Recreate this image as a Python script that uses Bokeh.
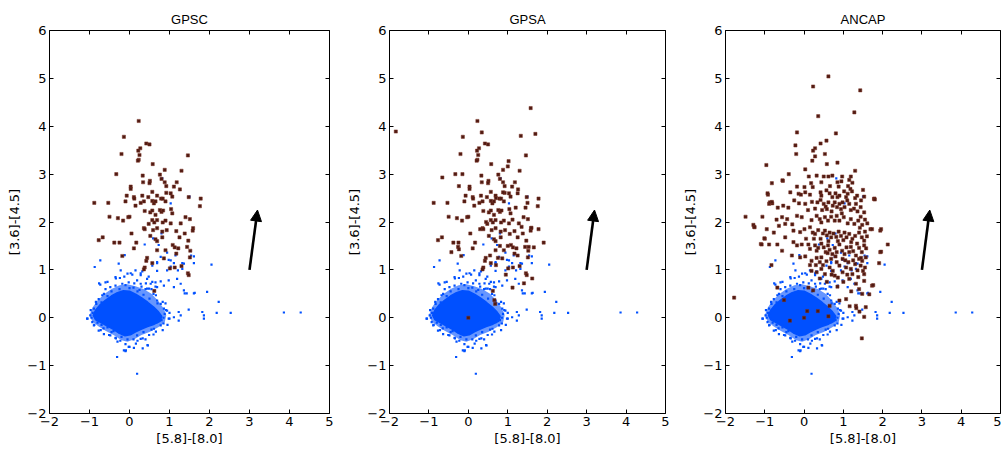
from bokeh.plotting import figure
from bokeh.layouts import row
from bokeh.models import FixedTicker, LinearAxis, Arrow, NormalHead, Range1d
from bokeh.embed import file_html
from bokeh.resources import INLINE

# ---------------- data ----------------
titles = ["GPSC", "GPSA", "ANCAP"]
x_label = "[5.8]-[8.0]"
y_label = "[3.6]-[4.5]"
x_ticks = [-2, -1, 0, 1, 2, 3, 4, 5]
x_tick_labels = ["\u22122", "\u22121", "0", "1", "2", "3", "4", "5"]
y_ticks = [-2, -1, 0, 1, 2, 3, 4, 5, 6]
y_tick_labels = ["\u22122", "\u22121", "0", "1", "2", "3", "4", "5", "6"]

# reddening vector
arrow_start = (3.0, 1.0)
arrow_end = (3.2, 2.25)

# dense core of the field-star (blue) distribution, outline
core_x = [-0.90, -0.84, -0.74, -0.60, -0.45, -0.30, -0.15, 0.00, 0.15, 0.30, 0.45, 0.60, 0.72,
          0.80, 0.76, 0.62, 0.45, 0.30, 0.15, 0.02, -0.12, -0.25, -0.40, -0.55, -0.70, -0.84]
core_y = [0.05, 0.16, 0.26, 0.36, 0.45, 0.52, 0.56, 0.55, 0.49, 0.41, 0.32, 0.22, 0.12,
          0.03, -0.07, -0.13, -0.18, -0.23, -0.29, -0.35, -0.37, -0.32, -0.24, -0.17, -0.10, -0.04]
# less dense halo around the core, outline
halo_x = [-1.00, -0.92, -0.80, -0.62, -0.45, -0.25, -0.05, 0.15, 0.35, 0.55, 0.72, 0.85,
          0.92, 0.88, 0.72, 0.50, 0.30, 0.12, -0.05, -0.20, -0.40, -0.60, -0.78, -0.93]
halo_y = [0.05, 0.22, 0.36, 0.50, 0.60, 0.68, 0.70, 0.66, 0.60, 0.50, 0.35, 0.20,
          0.05, -0.10, -0.20, -0.30, -0.36, -0.45, -0.50, -0.47, -0.36, -0.27, -0.18, -0.08]

# scattered field stars (blue), same in every panel
blue_pts = [
    (-0.12, 1.31), (-0.87, 1.06), (-0.73, 1.20), (-0.27, 1.13), (0.03, 0.93), (0.07, 0.90),
    (-0.35, 0.85), (-0.24, 0.83), (-0.13, 0.86), (0.15, 0.99), (0.32, 0.97), (0.57, 1.09),
    (0.69, 1.16), (0.78, 1.27), (1.03, 1.20), (1.15, 1.30), (0.94, 0.99), (1.21, 0.99),
    (1.32, 1.02), (1.36, 1.13), (1.54, 1.30), (1.61, 1.14), (2.05, 1.11), (-0.60, 0.74),
    (-0.73, 0.69), (-0.48, 0.64), (-0.35, 0.67), (-0.18, 0.71), (-0.02, 0.74), (0.19, 0.78),
    (0.28, 0.71), (0.44, 0.81), (0.53, 0.71), (0.65, 0.74), (0.69, 0.64), (0.78, 0.76),
    (0.86, 0.67), (0.98, 0.78), (1.11, 0.64), (1.19, 0.81), (1.28, 0.71), (1.36, 0.57),
    (1.43, 0.51), (1.61, 0.51), (1.94, 0.54), (2.23, 0.33), (1.82, 0.12), (1.86, 0.05),
    (1.86, -0.02), (2.18, 0.10), (2.53, 0.10), (1.48, 0.17), (1.23, 0.12), (1.28, 0.05),
    (1.23, -0.06), (1.11, 0.01), (0.98, -0.02), (0.86, 0.19), (0.94, 0.15), (0.78, 0.29),
    (0.69, 0.36), (-1.06, -0.02), (-0.93, -0.09), (-0.98, 0.05), (-0.89, 0.19), (-0.89, -0.16),
    (-0.77, -0.27), (-0.64, -0.34), (-0.48, -0.37), (-0.35, -0.42), (-0.23, -0.48), (-0.10, -0.55),
    (-0.02, -0.61), (0.11, -0.63), (-0.14, -0.68), (-0.10, -0.70), (0.19, -0.37), (0.28, -0.44),
    (0.46, -0.58), (0.61, -0.23), (0.78, -0.16), (0.69, -0.09), (-0.31, -0.82), (0.19, -1.17),
    (-0.64, 0.50), (-0.77, 0.39), (-0.83, 0.29), (3.86, 0.11), (4.28, 0.11), (1.63, 0.52),
    (1.38, 0.51), (0.82, 2.91), (1.50, 2.53), (1.03, 2.39), (0.38, 1.53), (0.59, 1.66),
    (0.80, 1.76), (0.73, 1.52), (0.94, 1.36), (0.98, 1.21), (0.69, 1.14), (1.11, 1.14),
    (1.32, 1.14), (1.61, 1.28), (0.69, 0.98), (1.03, 1.07), (0.28, 0.93), (0.48, 0.86),
    (0.57, 0.75), (0.44, 0.61), (0.65, 0.65), (-0.85, 0.10), (-0.80, -0.10), (-0.70, 0.32),
    (-0.55, 0.45), (-0.45, 0.55), (-0.25, 0.60), (0.00, 0.62), (0.20, 0.55), (0.35, 0.48),
    (0.50, 0.40), (0.60, 0.50), (0.40, 0.60), (0.75, 0.05), (0.85, 0.00), (0.80, -0.05),
    (0.55, -0.25), (0.35, -0.30), (0.10, -0.45), (-0.05, -0.45), (-0.25, -0.30), (-0.55, -0.20),
    (-0.70, -0.15), (0.30, 0.65), (0.55, 0.60), (0.90, 0.30), (1.00, 0.10), (0.40, -0.45),
    (-0.40, -0.28), (-1.05, -0.02), (-0.97, 0.16), (-0.84, 0.33), (-0.76, 0.72), (-0.55, 0.75),
    (-0.68, 0.47), (-0.34, 0.82), (-0.22, 0.99), (-0.05, 0.92), (0.12, 0.72), (0.28, 0.89),
    (0.41, 0.72), (0.49, 0.61), (0.66, 0.47), (0.83, 0.33), (0.91, 0.16), (1.00, -0.02),
    (0.95, -0.15), (0.83, -0.26), (0.66, -0.29), (0.49, -0.36), (0.33, -0.43), (0.16, -0.54),
    (0.00, -0.61), (-0.09, -0.68), (-0.30, -0.50), (-0.51, -0.36), (-0.72, -0.26), (-0.88, -0.15),
    (-0.34, -0.43), (0.33, -0.64), (0.45, -0.57), (-0.95, 0.00), (-0.92, 0.10), (-0.60, 0.60),
    (-0.10, 0.68), (0.10, 0.63), (0.25, 0.58), (0.70, 0.30), (0.88, 0.08), (0.85, -0.12),
    (0.60, -0.35), (0.20, -0.48), (-0.20, -0.40), (-0.45, -0.30), (-0.65, -0.22),
]

# YSO candidates (red) per classification scheme
gpsc_pts = [
    (0.23, 4.11), (-0.14, 3.78), (0.42, 3.64), (0.50, 3.62), (-0.20, 3.42), (0.27, 3.54),
    (0.22, 3.49), (0.25, 3.40), (0.23, 3.30), (0.21, 3.28), (0.58, 3.21), (1.46, 3.39),
    (-0.33, 3.00), (1.30, 3.07), (0.33, 2.97), (0.88, 3.09), (0.76, 2.99), (0.80, 2.90),
    (0.03, 2.74), (0.03, 2.69), (0.34, 2.83), (0.51, 2.86), (0.50, 2.81), (0.88, 2.83),
    (1.18, 2.83), (1.11, 2.74), (0.92, 2.75), (1.26, 2.68), (-0.07, 2.55), (0.11, 2.52),
    (0.12, 2.49), (0.32, 2.55), (0.47, 2.52), (0.57, 2.63), (0.69, 2.55), (0.79, 2.49),
    (0.83, 2.49), (0.92, 2.61), (1.03, 2.60), (1.07, 2.53), (0.90, 2.43), (1.48, 2.52),
    (1.78, 2.49), (1.76, 2.33), (-0.88, 2.40), (-0.53, 2.40), (-0.10, 2.43), (0.15, 2.34),
    (0.28, 2.40), (0.36, 2.43), (0.57, 2.44), (0.61, 2.39), (0.65, 2.43), (0.38, 2.23),
    (0.52, 2.20), (0.57, 2.24), (0.76, 2.25), (0.80, 2.21), (0.84, 2.24), (0.65, 2.15),
    (1.04, 2.27), (1.07, 2.18), (-0.50, 2.11), (-0.29, 2.08), (-0.16, 2.03), (-0.03, 2.10),
    (0.00, 2.11), (0.57, 2.04), (0.62, 1.99), (0.69, 2.04), (0.83, 1.99), (0.90, 2.03),
    (1.03, 1.97), (1.28, 1.97), (1.40, 2.10), (1.51, 2.06), (1.59, 1.87), (1.58, 1.82),
    (0.36, 1.87), (0.38, 1.85), (0.48, 1.96), (0.59, 1.83), (0.69, 1.87), (0.82, 1.80),
    (0.93, 1.83), (1.17, 1.81), (1.25, 1.68), (1.38, 1.76), (1.47, 1.61), (0.05, 1.76),
    (-0.67, 1.68), (-0.77, 1.62), (-0.38, 1.57), (-0.25, 1.57), (0.17, 1.57), (0.52, 1.71),
    (0.65, 1.64), (0.69, 1.60), (0.82, 1.68), (1.08, 1.52), (1.13, 1.47), (1.22, 1.45),
    (1.44, 1.48), (0.11, 1.45), (0.69, 1.41), (0.90, 1.41), (1.17, 1.34), (1.52, 1.40),
    (-0.18, 1.29), (0.44, 1.25), (0.42, 1.19), (0.86, 1.24), (1.51, 1.26), (0.57, 1.14),
    (0.38, 1.05), (0.36, 1.01), (1.01, 1.03), (1.13, 1.05), (1.30, 1.08), (1.46, 0.93),
    (1.48, 0.89), (0.62, 0.56),
]

gpsa_extra_pts = [
    (-1.84, 3.89), (1.58, 4.38), (1.70, 3.84), (1.33, 3.80), (0.34, 3.87), (1.02, 3.27),
    (1.00, 3.16), (-0.66, 2.93), (-0.15, 3.00), (-0.24, 2.75), (-0.26, 1.48), (-0.24, 1.43),
    (-0.43, 1.37), (1.53, 1.48), (1.66, 1.47), (1.91, 1.57), (1.78, 1.85), (1.60, 1.88),
    (1.41, 0.72), (1.62, 0.82), (1.12, 0.63), (0.66, 0.37), (0.68, 0.29), (0.00, 0.00),
    (0.70, 2.50), (1.20, 2.30), (0.45, 2.00), (0.80, 1.50), (1.00, 1.50), (1.35, 1.90),
    (1.25, 2.60), (1.45, 2.30), (1.50, 2.40), (0.70, 1.10), (0.95, 0.90), (0.55, 1.30),
    (1.25, 1.30), (0.88, 2.62), (1.12, 2.05), (0.30, 1.85), (0.75, 1.25), (1.05, 1.75),
]
gpsa_pts = gpsc_pts + gpsa_extra_pts

ancap_pts = [
    (0.62, 5.04), (0.23, 4.83), (1.43, 4.75), (1.28, 4.29), (0.36, 4.21), (0.81, 3.85),
    (-0.18, 3.87), (0.57, 3.70), (0.42, 3.64), (-0.22, 3.60), (0.28, 3.54), (0.23, 3.49),
    (-0.20, 3.42), (0.53, 3.42), (0.21, 3.28), (0.28, 3.37), (-0.96, 3.19), (0.58, 3.21),
    (0.85, 3.24), (1.30, 3.07), (0.03, 3.10), (-0.39, 3.00), (0.97, 2.95), (-0.54, 2.86),
    (-0.82, 2.81), (1.19, 2.95), (1.23, 2.82), (0.32, 2.97), (0.62, 2.95), (0.72, 2.97),
    (-0.55, 2.87), (0.18, 2.81), (0.44, 2.83), (0.85, 2.83), (0.88, 2.74), (1.15, 2.88),
    (-0.92, 2.57), (-0.35, 2.62), (-0.18, 2.74), (-0.14, 2.59), (-0.08, 2.57), (0.01, 2.73),
    (0.03, 2.62), (0.15, 2.57), (0.22, 2.73), (0.42, 2.62), (0.44, 2.55), (0.57, 2.66),
    (0.65, 2.60), (0.72, 2.52), (0.80, 2.60), (0.85, 2.52), (0.90, 2.55), (1.02, 2.64),
    (1.07, 2.52), (1.11, 2.59), (1.18, 2.69), (1.22, 2.64), (1.30, 2.50), (1.50, 2.67),
    (1.53, 2.53), (1.78, 2.48), (-0.89, 2.38), (-0.81, 2.39), (-0.67, 2.30), (-0.53, 2.34),
    (-0.13, 2.39), (0.03, 2.38), (0.20, 2.42), (0.34, 2.41), (0.42, 2.46), (0.50, 2.38),
    (0.55, 2.32), (0.58, 2.27), (0.62, 2.41), (0.73, 2.34), (0.78, 2.41), (0.84, 2.31),
    (0.90, 2.38), (0.94, 2.27), (0.98, 2.41), (1.03, 2.31), (1.15, 2.38), (1.19, 2.25),
    (1.32, 2.38), (1.36, 2.22), (1.44, 2.31), (1.53, 2.20), (-1.06, 2.11), (-0.56, 2.10),
    (-0.43, 2.06), (-0.18, 2.13), (-0.06, 2.10), (0.19, 2.04), (0.32, 2.13), (0.40, 2.06),
    (0.44, 1.99), (0.53, 2.10), (0.61, 2.03), (0.69, 2.11), (0.78, 2.03), (0.83, 2.13),
    (0.90, 2.03), (1.01, 2.10), (1.11, 1.97), (1.19, 2.06), (1.28, 1.96), (1.38, 2.03),
    (1.44, 2.11), (1.48, 1.94), (1.61, 1.97), (1.69, 1.85), (-1.27, 1.90), (-0.77, 1.78),
    (-0.64, 1.92), (-0.48, 1.96), (-0.27, 1.82), (-0.10, 1.79), (0.01, 1.85), (0.15, 1.89),
    (0.22, 1.78), (0.28, 1.75), (0.36, 1.83), (0.48, 1.76), (0.53, 1.82), (0.58, 1.72),
    (0.65, 1.78), (0.69, 1.68), (0.75, 1.76), (0.82, 1.69), (0.88, 1.80), (0.94, 1.71),
    (1.03, 1.78), (1.08, 1.68), (1.15, 1.75), (1.23, 1.65), (1.30, 1.71), (1.40, 1.78),
    (1.47, 1.68), (1.53, 1.61), (1.73, 1.85), (1.94, 1.82), (-1.10, 1.54), (-1.00, 1.65),
    (-0.89, 1.53), (-0.68, 1.53), (-0.48, 1.68), (-0.27, 1.58), (-0.18, 1.51), (-0.06, 1.53),
    (0.11, 1.53), (0.15, 1.44), (0.28, 1.51), (0.32, 1.40), (0.36, 1.46), (0.44, 1.55),
    (0.50, 1.47), (0.55, 1.37), (0.61, 1.51), (0.65, 1.42), (0.72, 1.33), (0.78, 1.46),
    (0.83, 1.37), (0.90, 1.53), (0.97, 1.40), (1.03, 1.33), (1.08, 1.47), (1.15, 1.37),
    (1.19, 1.48), (1.25, 1.39), (1.32, 1.30), (1.40, 1.46), (1.47, 1.37), (1.53, 1.51),
    (1.57, 1.26), (-0.56, 1.40), (-0.31, 1.30), (-0.10, 1.26), (0.03, 1.28), (0.19, 1.19),
    (0.32, 1.25), (0.40, 1.16), (0.44, 1.26), (0.57, 1.18), (0.65, 1.05), (0.69, 1.23),
    (0.83, 1.16), (0.90, 1.09), (0.98, 1.23), (1.07, 1.05), (1.13, 1.16), (1.19, 1.02),
    (1.30, 1.12), (1.36, 0.99), (1.44, 1.09), (1.53, 0.91), (1.48, 1.19), (1.40, 1.23),
    (0.19, 0.98), (0.32, 0.95), (0.44, 1.02), (0.53, 0.91), (0.73, 0.98), (0.78, 0.88),
    (0.86, 0.84), (0.98, 0.95), (1.15, 0.81), (1.23, 0.91), (1.32, 0.71), (1.53, 0.77),
    (1.73, 0.67), (2.13, 1.53), (1.94, 1.37), (-0.68, 0.63), (0.11, 0.63), (0.23, 0.57),
    (1.40, 0.60), (1.48, 0.50), (1.07, 0.39), (0.90, 0.36), (0.65, 0.25), (1.32, 0.25),
    (1.57, 0.22), (-1.78, 0.42), (-1.49, 2.11), (-1.29, 1.94), (-1.26, 1.89), (-1.08, 1.53),
    (-1.01, 1.66), (-0.93, 2.60), (-0.87, 2.41), (-0.82, 2.42), (-0.83, 1.10), (1.96, 1.85),
    (1.96, 1.38), (1.91, 1.14), (1.79, 2.49), (1.80, 2.47), (1.76, 0.68), (1.66, 0.49),
    (1.53, 0.02), (1.47, -0.43), (1.16, 0.24), (1.33, 0.20), (1.41, 0.13), (-0.36, -0.06),
    (0.00, 0.00), (0.08, 0.14), (0.35, 0.14), (0.62, 0.03), (-0.51, 0.37),
    (0.46, 2.25), (0.70, 2.22), (1.10, 2.45), (1.27, 2.28), (0.96, 2.18), (1.42, 1.88),
    (1.55, 1.80), (1.35, 1.55), (1.20, 1.58), (1.00, 1.62), (0.86, 1.60), (0.62, 1.60),
    (0.42, 1.65), (0.25, 1.65), (0.05, 1.65), (1.45, 1.25), (1.55, 1.05), (1.50, 0.98),
    (1.38, 0.85), (1.25, 1.20), (1.05, 1.20), (0.80, 1.28), (0.60, 1.35), (0.48, 1.10),
    (0.30, 1.10), (0.15, 1.10), (1.58, 1.45), (1.60, 1.70), (1.55, 2.05), (1.45, 2.45),
    (1.35, 2.55), (1.12, 2.75), (0.95, 2.85), (0.66, 2.75), (0.50, 2.95), (0.12, 2.95),
    (-0.25, 2.45), (-0.40, 2.30), (-0.70, 2.05), (-0.95, 1.85), (-0.30, 1.95), (0.10, 2.25),
    (0.28, 2.28), (1.00, 0.75), (0.85, 0.65), (0.58, 0.75), (0.40, 0.82), (1.20, 0.55),
    (1.10, 0.90), (0.70, 0.90),
]
red_sets = [gpsc_pts, gpsa_pts, ancap_pts]

# ---------------- styling ----------------
FONT = "DejaVu Sans"
TITLE_FONT = "Liberation Sans"
BLUE = "#0050ff"
RED_FILL = "#4f1a12"
RED_EDGE = "#7a3427"


def style_axis(ax, ticks, labels, show_labels=True):
    ax.ticker = FixedTicker(ticks=ticks)
    ax.major_tick_in = 4
    ax.major_tick_out = 0
    ax.major_tick_line_color = "black"
    ax.major_tick_line_width = 1
    ax.minor_tick_line_color = None
    ax.axis_line_color = None
    ax.major_label_text_font = FONT
    if show_labels:
        ax.major_label_overrides = {t: l for t, l in zip(ticks, labels)}
        ax.major_label_text_font_size = "13px"
        ax.major_label_text_color = "black"
        ax.major_label_standoff = 3
    else:
        # tick marks only (mirrors matplotlib's ticks on every side)
        ax.major_label_text_font_size = "1px"
        ax.major_label_text_color = None
        ax.major_label_standoff = 0


def make_panel(title, pts, width, left, right):
    p = figure(width=width, height=448, x_range=Range1d(-2, 5), y_range=Range1d(-2, 6),
               output_backend="svg", toolbar_location=None,
               min_border_left=left, min_border_right=right,
               min_border_top=30, min_border_bottom=35)
    p.title.text = title
    p.title.text_font = TITLE_FONT
    p.title.text_font_size = "13px"
    p.title.text_font_style = "normal"
    p.title.text_color = "black"
    p.title.align = "center"
    p.title.standoff = 8
    p.xgrid.grid_line_color = None
    p.ygrid.grid_line_color = None
    p.outline_line_color = "black"
    p.outline_line_width = 1
    p.outline_line_alpha = 1
    p.background_fill_color = "white"
    p.border_fill_color = "white"

    style_axis(p.xaxis[0], x_ticks, x_tick_labels)
    style_axis(p.yaxis[0], y_ticks, y_tick_labels)
    p.xaxis.axis_label = x_label
    p.yaxis.axis_label = y_label
    for ax in (p.xaxis[0], p.yaxis[0]):
        ax.axis_label_text_font = FONT
        ax.axis_label_text_font_size = "13px"
        ax.axis_label_text_font_style = "normal"
        ax.axis_label_text_color = "black"
        ax.axis_label_standoff = 2

    top_ax = LinearAxis()
    style_axis(top_ax, x_ticks, x_tick_labels, show_labels=False)
    p.add_layout(top_ax, "above")
    right_ax = LinearAxis()
    style_axis(right_ax, y_ticks, y_tick_labels, show_labels=False)
    p.add_layout(right_ax, "right")

    # field stars
    p.patch(halo_x, halo_y, fill_color=BLUE, fill_alpha=0.6, line_color=None)
    p.patch(core_x, core_y, fill_color=BLUE, line_color=BLUE, line_width=2)
    p.scatter([q[0] for q in blue_pts], [q[1] for q in blue_pts], marker="square",
              size=2.2, fill_color=BLUE, line_color=None)
    # YSO candidates
    p.scatter([q[0] for q in pts], [q[1] for q in pts], marker="square",
              size=3.2, fill_color=RED_FILL, line_color=RED_EDGE, line_width=0.5)

    p.add_layout(Arrow(end=NormalHead(size=11, fill_color="black", line_color="black"),
                       x_start=arrow_start[0], y_start=arrow_start[1],
                       x_end=arrow_end[0], y_end=arrow_end[1],
                       line_width=2.6, line_color="black"))
    return p


p1 = make_panel(titles[0], red_sets[0], 344, 49, 15)
p2 = make_panel(titles[1], red_sets[1], 336, 41, 15)
p3 = make_panel(titles[2], red_sets[2], 321, 42, 1)
layout = row(p1, p2, p3)

open("out.html", "w").write(file_html(layout, INLINE))
